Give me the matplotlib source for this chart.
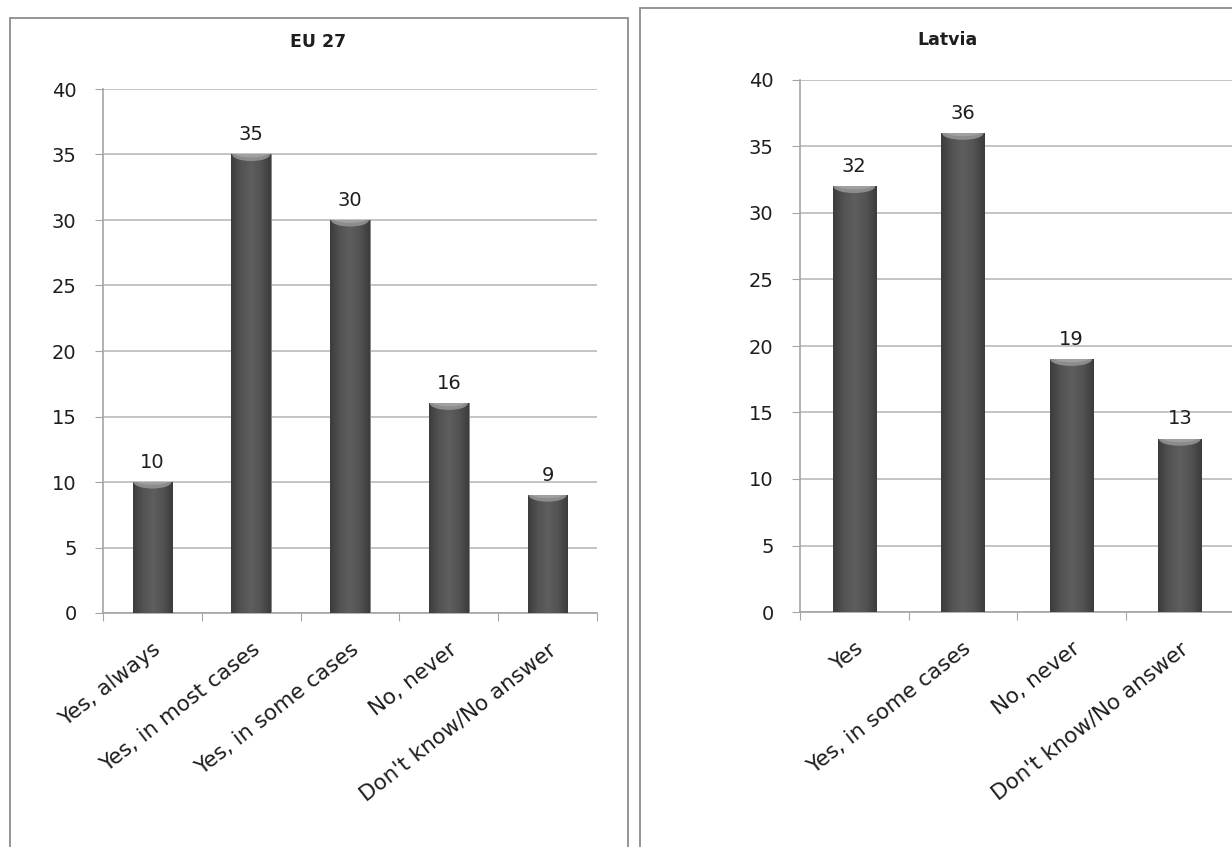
import numpy as np
import matplotlib
matplotlib.use('Agg')
import matplotlib.pyplot as plt
from matplotlib.patches import Rectangle, Ellipse
from matplotlib.colors import LinearSegmentedColormap

plt.rcParams['font.family'] = ['DejaVu Sans']

# Data
eu_categories = ['Yes, always', 'Yes, in most cases', 'Yes, in some cases', 'No, never', "Don't know/No answer"]
eu_values = [10, 35, 30, 16, 9]
lv_categories = ['Yes', 'Yes, in some cases', 'No, never', "Don't know/No answer"]
lv_values = [32, 36, 19, 13]
y_ticks = [0, 5, 10, 15, 20, 25, 30, 35, 40]

text_col = '#1e1e1e'
grid_col = '#c4c4c4'
axis_col = '#a4a4a4'

bar_cmap = LinearSegmentedColormap.from_list(
    'barshade', ['#3c3c3c', '#535353', '#5e5e5e', '#535353', '#3c3c3c'])

fig = plt.figure(figsize=(12.32, 8.47), dpi=100)

# panel borders (figure coords)
fig.patches.append(Rectangle((10 / 1232, -0.02), 618 / 1232, 1.02 - 18 / 847,
                             transform=fig.transFigure, fill=False,
                             edgecolor='#8c8c8c', linewidth=1.3))
fig.patches.append(Rectangle((640 / 1232, -0.02), 0.6, 1.02 - 8 / 847,
                             transform=fig.transFigure, fill=False,
                             edgecolor='#8c8c8c', linewidth=1.3))

grad = np.tile(np.linspace(0, 1, 64), (2, 1))


def draw_panel(ax, cats, vals):
    n = len(cats)
    x = np.arange(n)
    ax.set_xlim(-0.5, n - 0.5)
    ax.set_ylim(0, 40)
    bars = ax.bar(x, vals, width=0.4, color='#505050', edgecolor='#8a8a8a',
                  linewidth=0.7, zorder=3)
    for b in bars:
        bx, by = b.get_x(), b.get_y()
        bw, bh = b.get_width(), b.get_height()
        im = ax.imshow(grad, extent=(bx, bx + bw, by, by + bh), aspect='auto',
                       cmap=bar_cmap, zorder=3.5)
        im.set_clip_path(b)
        # concave light rim just under the top of each bar
        cap = ax.add_patch(Ellipse((bx + bw / 2, by + bh), bw * 0.96, 1.0,
                                   facecolor='#8c8c8c', edgecolor='none', zorder=4))
        cap.set_clip_path(b)
        cap2 = ax.add_patch(Ellipse((bx + bw / 2, by + bh + 0.05), bw * 0.8, 0.55,
                                    facecolor='#a0a0a0', edgecolor='none', zorder=4.2))
        cap2.set_clip_path(b)
        ax.text(bx + bw / 2, by + bh + 0.8, f'{int(bh)}', ha='center', va='bottom',
                fontsize=14, color=text_col, zorder=5)

    ax.set_yticks(y_ticks)
    ax.set_yticklabels([str(t) for t in y_ticks], fontsize=14, color=text_col)
    ax.yaxis.grid(True, color=grid_col, linewidth=1.4, zorder=0)
    ax.set_axisbelow(True)
    ax.tick_params(axis='y', length=6, color=axis_col, pad=13)

    # category ticks at boundaries, labels at centres
    ax.set_xticks(np.arange(n + 1) - 0.5)
    ax.set_xticklabels([])
    ax.set_xticks(x, minor=True)
    ax.set_xticklabels(cats, minor=True, rotation=38, ha='right',
                       rotation_mode='anchor', fontsize=15.5, color=text_col)
    ax.tick_params(axis='x', which='major', length=6, color=axis_col)
    ax.tick_params(axis='x', which='minor', length=0, pad=19)

    for s in ['top', 'right']:
        ax.spines[s].set_visible(False)
    for s in ['left', 'bottom']:
        ax.spines[s].set_color(axis_col)
        ax.spines[s].set_linewidth(1.2)


ax1 = fig.add_axes([103 / 1232, 1 - 613 / 847, 494 / 1232, 524 / 847])
draw_panel(ax1, eu_categories, eu_values)
fig.text(318 / 1232, 1 - 42 / 847, 'EU 27', ha='center', va='center',
         fontsize=12.5, fontweight='bold', color=text_col)

ax2 = fig.add_axes([800 / 1232, 1 - 612 / 847, 434 / 1232, 532 / 847])
draw_panel(ax2, lv_categories, lv_values)
fig.text(948 / 1232, 1 - 40 / 847, 'Latvia', ha='center', va='center',
         fontsize=12.5, fontweight='bold', color=text_col)

fig.savefig('out.png', dpi=100)
